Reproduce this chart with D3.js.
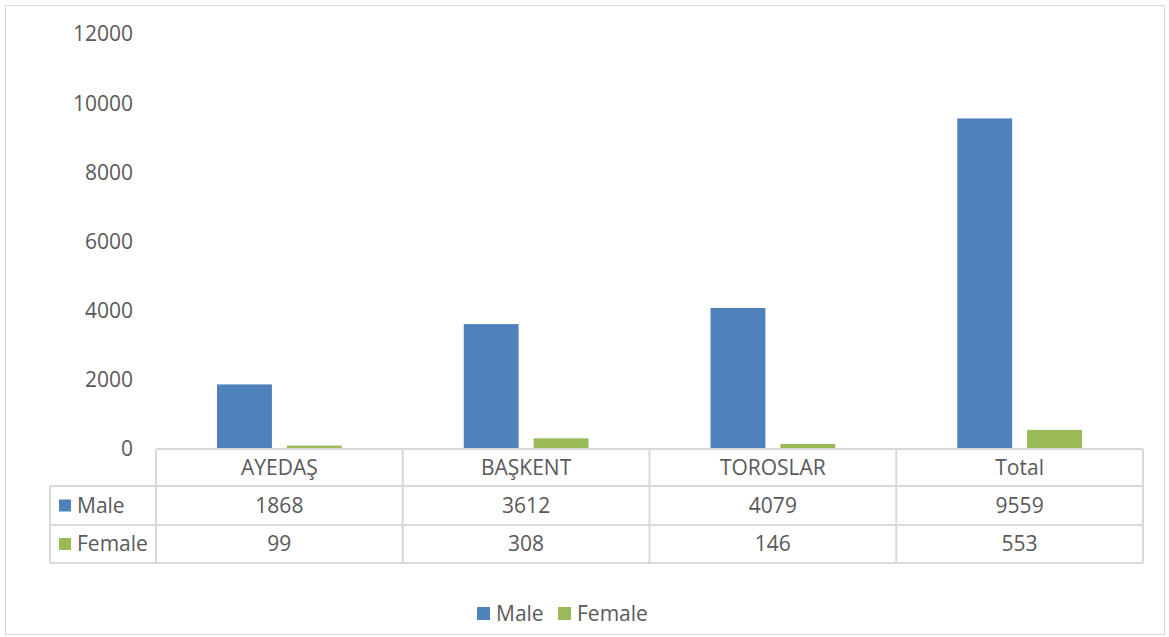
<!DOCTYPE html>
<meta charset="utf-8">
<style>
body { margin: 0; background: #fff; }
text { font-family: "Open Sans", "Liberation Sans", sans-serif; fill: #595959; }
</style>
<svg width="1169" height="637"></svg>
<script src="https://cdn.jsdelivr.net/npm/d3@7"></script>
<script>
// data
var categories = ["AYEDAŞ", "BAŞKENT", "TOROSLAR", "Total"];
var seriesNames = ["Male", "Female"];
var maleValues = [1868, 3612, 4079, 9559];
var femaleValues = [99, 308, 146, 553];
var yTicks = [0, 2000, 4000, 6000, 8000, 10000, 12000];
var colors = ["#4F81BD", "#9BBB59"];

var svg = d3.select("svg");
var series = [maleValues, femaleValues];

// outer frame
svg.append("rect")
    .attr("x", 5.5).attr("y", 5.5)
    .attr("width", 1159).attr("height", 629)
    .attr("fill", "none").attr("stroke", "#d9d9d9");

var x0 = d3.scaleBand().domain(categories).range([156, 1143]);
var x1 = d3.scaleBand().domain(seriesNames).range([61, x0.bandwidth() - 61]).paddingInner(0.214);
var y = d3.scaleLinear().domain([0, 12000]).range([449, 34]);

// y tick labels
svg.append("g").selectAll("text")
    .data(yTicks)
    .enter().append("text")
    .attr("x", 133)
    .attr("y", function(d) { return y(d); })
    .attr("dy", "0.35em")
    .attr("text-anchor", "end")
    .style("font-size", "21px")
    .text(function(d) { return d; });

// bars
seriesNames.forEach(function(s, i) {
  svg.append("g").selectAll("rect")
      .data(series[i])
      .enter().append("rect")
      .attr("x", function(d, j) { return x0(categories[j]) + x1(s); })
      .attr("width", x1.bandwidth())
      .attr("y", function(d) { return y(d); })
      .attr("height", function(d) { return y(0) - y(d); })
      .attr("fill", colors[i]);
});

// data table
var rowY = [449, 486, 525, 563];
var tbl = svg.append("g").attr("stroke", "#d9d9d9").attr("stroke-width", 2).attr("fill", "none");
tbl.append("line").attr("x1", 156).attr("x2", 1143).attr("y1", rowY[0]).attr("y2", rowY[0]);
[1, 2, 3].forEach(function(r) {
  tbl.append("line").attr("x1", 50).attr("x2", 1143).attr("y1", rowY[r]).attr("y2", rowY[r]);
});
tbl.append("line").attr("x1", 50).attr("x2", 50).attr("y1", rowY[1]).attr("y2", rowY[3]);
categories.forEach(function(c) {
  tbl.append("line").attr("x1", x0(c)).attr("x2", x0(c)).attr("y1", rowY[0]).attr("y2", rowY[3]);
});
tbl.append("line").attr("x1", 1143).attr("x2", 1143).attr("y1", rowY[0]).attr("y2", rowY[3]);

svg.append("g").selectAll("text")
    .data(categories)
    .enter().append("text")
    .attr("x", function(d) { return x0(d) + x0.bandwidth() / 2; })
    .attr("y", (rowY[0] + rowY[1]) / 2)
    .attr("dy", "0.35em")
    .attr("text-anchor", "middle")
    .style("font-size", "21px")
    .text(function(d) { return d; });

seriesNames.forEach(function(s, i) {
  var cy = (rowY[i + 1] + rowY[i + 2]) / 2;
  svg.append("rect").attr("x", 59).attr("y", cy - 6).attr("width", 12).attr("height", 12).attr("fill", colors[i]);
  svg.append("text").attr("x", 77).attr("y", cy).attr("dy", "0.35em")
      .style("font-size", "21px").text(s);
  svg.append("g").selectAll("text")
      .data(series[i])
      .enter().append("text")
      .attr("x", function(d, j) { return x0(categories[j]) + x0.bandwidth() / 2; })
      .attr("y", cy)
      .attr("dy", "0.35em")
      .attr("text-anchor", "middle")
      .style("font-size", "21px")
      .text(function(d) { return d; });
});

// legend
var legendX = [477, 558];
seriesNames.forEach(function(s, i) {
  svg.append("rect").attr("x", legendX[i]).attr("y", 607).attr("width", 13).attr("height", 13).attr("fill", colors[i]);
  svg.append("text").attr("x", legendX[i] + 19).attr("y", 614).attr("dy", "0.35em")
      .style("font-size", "21px").text(s);
});
</script>
